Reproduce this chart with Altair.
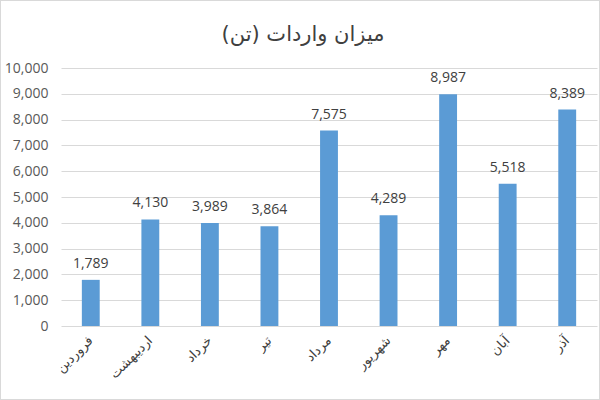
import altair as alt
import pandas as pd

title_text = "میزان واردات (تن)"
months = ["فروردین", "اردیبهشت", "خرداد", "تیر", "مرداد", "شهریور", "مهر", "آبان", "آذر"]
values = [1789, 4130, 3989, 3864, 7575, 4289, 8987, 5518, 8389]
labels = [f"{v:,}" for v in values]

df = pd.DataFrame({"month": months, "value": values, "label": labels})

FONT = "DejaVu Sans"
NUMFONT = "Open Sans"

x = alt.X("month:N", sort=months, title=None,
          scale=alt.Scale(paddingInner=0.7, paddingOuter=0.35),
          axis=alt.Axis(labelAngle=-45, labelAlign="right", labelBaseline="middle",
                        labelFont=FONT, labelFontSize=13, labelColor="#404040",
                        labelPadding=12, ticks=False, domain=False, grid=False))
y = alt.Y("value:Q", title=None,
          scale=alt.Scale(domain=[0, 10000]),
          axis=alt.Axis(values=list(range(0, 10001, 1000)), format=",.0f",
                        labelFont=NUMFONT, labelFontSize=14, labelColor="#595959",
                        labelPadding=13, ticks=False, domain=False,
                        gridColor="#d9d9d9", gridWidth=1))

base = alt.Chart(df).encode(x=x, y=y)
bars = base.mark_bar(color="#5b9bd5")
text = base.mark_text(dy=-16, font=NUMFONT, fontSize=14, color="#404040").encode(text="label:N")

border = alt.Chart(df).mark_rect(fill=None, stroke="#d9d9d9", strokeWidth=1).encode(
    x=alt.value(-60.5), x2=alt.value(538.5), y=alt.value(-67.5), y2=alt.value(331.5))

title = alt.Chart(pd.DataFrame({"t": [title_text]})).mark_text(
    font=FONT, fontSize=21, color="#404040", align="center", baseline="alphabetic").encode(
    text="t:N", x=alt.value(242), y=alt.value(-27))

chart = alt.layer(border, bars, text, title).properties(
    width=536, height=258,
    autosize=alt.AutoSizeParams(type="none"),
    padding={"left": 61, "top": 68, "right": 3, "bottom": 74},
).configure_view(stroke=None)

chart.save("out.html", embed_options={"renderer": "svg", "actions": False})
